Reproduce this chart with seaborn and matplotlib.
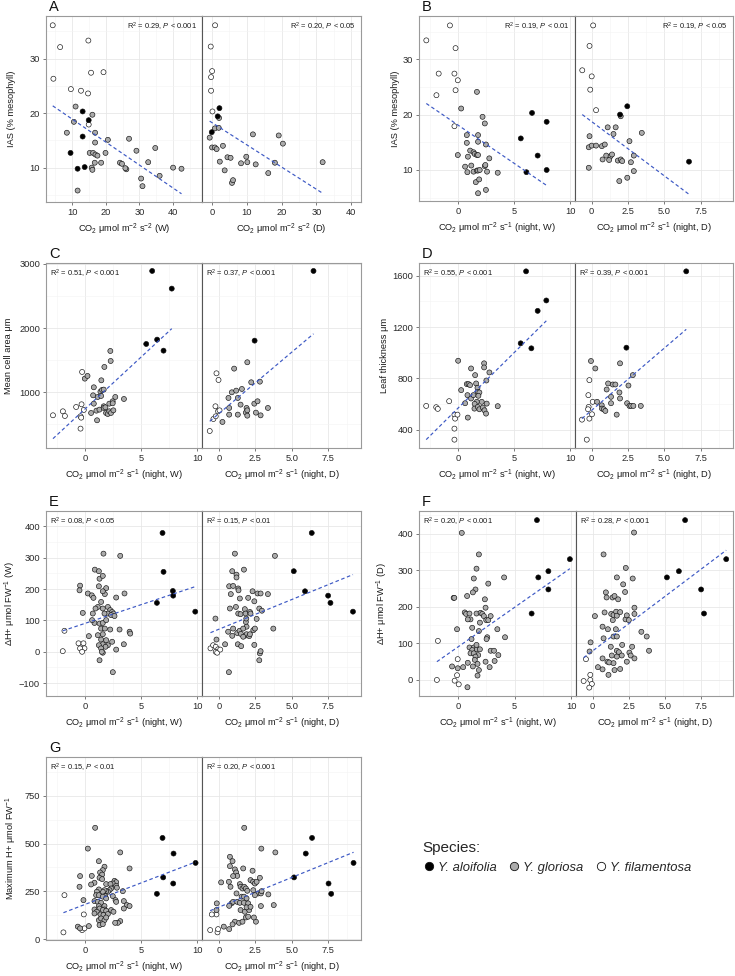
import matplotlib
matplotlib.use("Agg")
import matplotlib.pyplot as plt
import numpy as np
import pandas as pd
import seaborn as sns
from matplotlib.lines import Line2D

sns.set_theme(style="white")
plt.rcParams["font.family"] = ["Liberation Sans", "DejaVu Sans"]
plt.rcParams["mathtext.fontset"] = "custom"
plt.rcParams["mathtext.rm"] = "Liberation Sans"
plt.rcParams["mathtext.it"] = "Liberation Sans:italic"
plt.rcParams["mathtext.bf"] = "Liberation Sans:bold"

# ---------------- data (x = CO2 uptake, y = trait) ----------------
SPECIES = ["Y. aloifolia", "Y. gloriosa", "Y. filamentosa"]
COLORS = {"Y. aloifolia": "#000000", "Y. gloriosa": "#ababab", "Y. filamentosa": "#ffffff"}

# Panel A
A_W_alo = [(13.1,20.3),(14.9,18.7),(13.1,15.7),(9.5,12.7),(11.6,9.8),(13.7,10.1)]
A_W_fil = [(4.2,36.1),(6.4,32.1),(4.4,26.3),(9.6,24.4),(12.6,24.1),(14.8,33.3),(14.7,23.6),(15.6,27.4),(19.3,27.5),(14.9,17.9)]
A_W_glo = [(8.4,16.4),(11.0,21.2),(10.5,18.4),(16.0,19.7),(16.8,16.4),(16.8,14.6),(15.2,12.7),(16.2,12.7),(16.9,12.4),(17.5,12.2),(16.7,10.9),(15.8,10.0),(16.0,9.6),(18.6,10.9),(19.9,12.7),(20.6,15.1),(26.9,15.3),(24.2,10.9),(24.8,10.7),(26.1,9.7),(25.8,9.9),(29.1,13.1),(32.6,11.0),(34.7,13.6),(30.5,8.0),(30.9,6.6),(36.0,8.5),(40.0,10.0),(42.5,9.8),(11.6,5.8)]
A_D_alo = [(2.2,20.9),(1.7,19.4),(0.0,16.5)]
A_D_fil = [(0.95,36.1),(-0.3,32.2),(0.1,27.7),(-0.2,26.6),(-0.2,24.1),(0.2,20.3)]
A_D_glo = [(2.1,19.1),(0.9,17.2),(2.0,17.3),(-0.6,15.5),(0.1,13.7),(0.9,13.7),(1.4,13.4),(3.2,14.0),(4.5,11.9),(5.4,11.8),(2.3,11.1),(3.7,9.5),(5.8,7.2),(6.1,7.7),(8.4,10.8),(9.9,12.0),(10.2,11.0),(12.6,10.6),(11.8,16.1),(16.2,9.0),(19.2,15.9),(20.4,14.4),(18.1,10.9),(31.8,11.0)]

# Panel B
B_W_alo = [(5.6,15.7),(6.6,20.3),(7.1,12.6),(7.9,18.7),(7.9,10.0),(6.1,9.6)]
B_W_fil = [(-2.8,33.4),(-0.7,36.1),(-0.2,32.0),(-1.7,27.4),(-0.3,27.4),(0.0,26.2),(-1.9,23.5),(-0.2,24.4),(-0.3,17.9)]
B_W_glo = [(0.3,21.1),(1.7,24.1),(2.2,19.6),(2.4,18.4),(0.0,12.7),(0.8,16.3),(0.8,14.9),(1.8,16.3),(1.8,15.1),(2.5,14.6),(1.1,13.5),(1.4,13.2),(1.5,12.9),(1.7,12.7),(1.8,12.7),(0.9,12.4),(0.65,10.6),(0.85,9.6),(1.2,10.8),(1.4,9.7),(1.7,9.9),(1.8,9.9),(1.95,10.0),(2.4,10.7),(2.45,10.9),(2.6,9.7),(2.8,12.1),(3.55,9.5),(1.6,7.8),(1.9,8.3),(1.8,5.8),(2.5,6.4)]
B_D_alo = [(1.95,20.0),(2.45,21.5),(6.7,11.5)]
B_D_fil = [(0.1,36.1),(-0.15,32.4),(-0.65,28.0),(0.0,26.9),(-0.1,24.5),(0.3,20.8)]
B_D_glo = [(2.0,19.7),(1.1,17.7),(1.65,17.7),(1.5,16.5),(-0.15,16.1),(-0.2,10.4),(-0.2,14.1),(0.0,14.4),(0.3,14.4),(0.7,14.3),(0.9,14.6),(2.6,15.2),(3.45,16.7),(0.75,11.9),(1.0,12.6),(1.3,12.5),(1.2,11.8),(1.4,12.8),(1.8,11.7),(2.0,11.9),(2.1,11.6),(2.9,12.6),(2.7,11.4),(2.9,9.8),(1.9,8.0),(2.45,8.6)]

# Panel C
C_W_alo = [(5.99,2891),(7.73,2616),(5.46,1753),(6.43,1821),(7.0,1649)]
C_W_fil = [(-2.83,642),(-1.95,704),(-1.77,631),(-0.77,771),(-0.29,813),(-0.38,626),(-0.32,605),(-0.38,434),(-0.24,1317),(-0.09,725)]
C_W_glo = [(0,1213),(0.24,1255),(0.56,678),(0.74,953),(0.8,1078),(0.8,823),(1.03,714),(1.09,564),(1.15,927),(1.3,730),(1.39,1010),(1.45,943),(1.47,1187),(1.53,1036),(1.68,1042),(1.74,1395),(1.68,782),(1.68,756),(1.83,766),(1.89,678),(2.04,662),(2.18,823),(2.18,704),(2.33,678),(2.27,1644),(2.3,1488),(2.48,860),(2.48,829),(2.54,719),(2.71,927),(3.48,896)]
C_D_alo = [(2.45,1805),(6.48,2891)]
C_D_fil = [(-0.62,397),(-0.16,1296),(-0.02,1192),(-0.37,584),(-0.21,626),(-0.05,704),(0.05,719),(-0.23,782)]
C_D_glo = [(0.25,538),(0.66,912),(0.71,652),(0.71,756),(0.89,1000),(1.05,1369),(1.19,1026),(1.3,912),(1.3,652),(1.49,808),(1.58,1052),(1.85,683),(1.9,756),(1.95,719),(1.95,636),(1.95,1468),(2.22,1156),(2.43,823),(2.54,683),(2.65,860),(2.81,1166),(2.86,641),(3.36,756)]

# Panel D
D_W_alo = [(6.07,1634),(7.87,1407),(7.1,1326),(5.59,1073),(6.54,1034)]
D_W_fil = [(-2.81,585),(-1.92,575),(-1.78,562),(-0.77,622),(-0.3,517),(-0.24,486),(-0.3,408),(-0.3,322),(-0.03,517)]
D_W_glo = [(0.03,937),(0.3,708),(0.65,606),(0.8,755),(0.95,755),(0.89,494),(1.09,747),(1.18,877),(0.86,669),(1.18,643),(1.39,669),(1.54,825),(1.63,760),(1.75,726),(1.78,695),(1.92,690),(1.83,664),(1.69,617),(1.5,601),(1.48,564),(1.78,577),(1.92,559),(2.13,617),(2.22,572),(2.37,551),(2.51,525),(2.57,603),(2.34,917),(2.34,885),(2.54,783),(2.81,846),(3.55,583)]
D_D_alo = [(2.39,1039),(6.51,1634)]
D_D_fil = [(-0.67,478),(-0.34,322),(-0.16,486),(-0.21,577),(0.02,520),(-0.23,669),(-0.16,786),(-0.25,559),(0.07,617)]
D_D_glo = [(-0.05,935),(0.25,877),(0.37,617),(0.69,590),(0.71,564),(0.83,559),(0.94,546),(1.03,713),(1.13,760),(1.33,656),(1.33,606),(1.45,752),(1.63,752),(1.72,517),(1.95,917),(1.91,690),(1.95,643),(2.44,606),(2.53,744),(2.6,585),(2.71,585),(2.83,825),(2.87,585),(3.38,585)]

# Panel E
E_W_alo = [(6.91,379),(7.0,255),(7.83,194),(7.86,179),(6.41,156),(9.82,128)]
E_W_fil = [(-1.96,2),(-1.81,67),(-0.56,27),(-0.12,27),(-0.03,11),(-0.42,11),(-0.24,0)]
E_W_glo = [(-0.42,211),(-0.47,196),(0.27,186),(0.62,180),(0.77,172),(1.25,209),(1.9,203),(1.78,184),(1.6,193),(2.79,173),(3.53,186),(1.45,159),(1.16,143),(0.95,138),(1.6,138),(2.05,143),(2.26,133),(2.43,127),(2.55,122),(2.05,122),(2.34,117),(1.75,122),(2.64,114),(-0.18,124),(0.71,122),(0.86,92),(0.65,101),(1.31,90),(1.6,92),(1.9,101),(1.45,74),(1.78,74),(2.26,71),(3.09,71),(3.98,64),(4.04,58),(0.36,50),(1.16,53),(1.6,56),(1.45,39),(1.6,24),(1.25,21),(1.9,37),(2.05,21),(2.43,32),(2.79,7),(3.47,24),(1.84,16),(1.45,11),(1.6,-3),(1.51,0),(1.31,-27),(2.49,-65),(1.66,313),(3.15,306),(0.89,262),(1.25,257),(1.31,233),(1.6,242)]
E_D_alo = [(6.36,379),(5.13,257),(5.9,193),(7.48,179),(7.64,156),(9.18,128)]
E_D_fil = [(-0.57,11),(-0.39,21),(-0.21,16),(-0.05,8),(-0.21,0),(-0.11,-3),(0.1,7)]
E_D_glo = [(-0.16,39),(-0.23,106),(0.69,-65),(1.1,313),(0.92,257),(1.21,246),(1.21,237),(1.72,262),(0.71,209),(0.98,210),(1.33,202),(1.35,196),(0.82,184),(1.44,170),(2.01,172),(2.31,193),(2.65,186),(2.86,186),(3.36,184),(3.84,306),(2.43,161),(0.76,138),(1.17,143),(1.33,122),(1.49,120),(1.78,136),(1.83,122),(2.13,127),(2.17,122),(2.77,138),(2.95,131),(2.59,105),(1.85,95),(1.9,80),(0.98,74),(1.26,60),(1.42,67),(1.51,57),(1.67,74),(1.83,52),(1.9,56),(2.08,50),(2.13,56),(2.36,69),(2.47,74),(0.43,24),(1.3,24),(1.53,18),(2.43,22),(2.81,-5),(2.86,2),(2.77,-27),(3.73,74),(0.92,51),(0.64,64),(1.67,48),(1.88,106)]

# Panel F
F_W_alo = [(6.97,437),(9.88,330),(7.98,297),(7.09,280),(7.98,247),(6.5,181)]
F_W_fil = [(-1.78,106),(-1.87,-1),(-0.3,-3),(0.06,-13),(-0.03,56),(-0.09,12)]
F_W_glo = [(1.63,304),(1.39,277),(4.07,280),(2.67,263),(1.54,247),(1.31,239),(0.8,229),(-0.39,224),(-0.33,224),(2.37,220),(2.43,197),(0.59,184),(0.71,180),(1.01,181),(1.63,181),(1.99,183),(2.14,180),(1.1,165),(0.86,165),(2.28,174),(2.49,163),(2.67,163),(2.88,174),(1.93,156),(3.47,138),(1.25,142),(-0.09,138),(1.84,133),(4.15,116),(2.58,116),(2.52,111),(1.19,111),(1.01,88),(1.39,88),(1.63,83),(1.25,81),(1.63,95),(1.93,83),(1.1,72),(1.39,72),(1.78,67),(1.54,63),(1.48,54),(2.88,79),(3.18,79),(3.56,67),(2.43,49),(3.23,51),(2.79,34),(-0.53,36),(-0.03,31),(0.45,34),(0.86,46),(1.31,36),(1.72,43),(1.84,26),(1.72,11),(0.83,-21),(0.33,402),(1.84,343)]
F_D_alo = [(6.41,437),(9.26,330),(5.98,297),(5.15,280),(7.52,247),(7.72,181)]
F_D_fil = [(-0.62,-4),(-0.46,56),(-0.16,13),(-0.16,-1),(-0.05,-12),(-0.23,-22)]
F_D_glo = [(-0.21,77),(-0.14,102),(0.16,174),(0.37,34),(0.69,28),(0.69,58),(0.76,343),(0.83,184),(0.69,145),(0.76,113),(0.92,239),(0.97,225),(1.06,138),(1.1,13),(1.03,49),(1.15,47),(1.29,180),(1.38,225),(1.52,229),(1.4,163),(1.45,177),(1.45,118),(1.26,90),(1.33,66),(1.45,45),(1.52,26),(1.63,186),(1.68,175),(1.68,280),(1.61,138),(1.68,118),(1.77,220),(1.91,185),(1.68,79),(1.82,75),(1.68,63),(1.91,29),(2.05,95),(2.02,66),(2.12,261),(2.25,240),(2.3,306),(2.28,165),(2.37,176),(2.37,49),(2.51,163),(2.55,74),(2.64,66),(2.74,90),(2.78,277),(2.9,197),(2.9,180),(2.9,58),(2.87,403),(3.38,131),(3.75,118),(3.91,79)]

# Panel G
G_W_alo = [(6.91,530),(7.89,448),(9.85,399),(6.97,323),(7.86,291),(6.41,237)]
G_W_fil = [(-1.9,35),(-1.81,230),(-0.09,129),(-0.24,47),(-0.03,56)]
G_W_glo = [(0.92,583),(0.27,474),(3.15,454),(1.25,408),(1.75,379),(1.6,361),(1.36,349),(1.54,338),(3.98,370),(-0.42,330),(0.62,331),(1.31,321),(1.54,314),(-0.47,274),(0.86,295),(0.56,286),(1.9,288),(2.64,305),(2.79,298),(2.49,291),(2.28,288),(2.34,265),(2.2,256),(2.05,248),(1.9,251),(1.75,256),(1.6,248),(2.79,279),(2.85,269),(1.25,260),(1.07,248),(1.01,230),(1.25,230),(3.38,251),(-0.12,204),(2.49,225),(1.81,225),(1.6,222),(1.9,213),(3.47,199),(3.74,178),(2.73,204),(2.79,195),(0.86,199),(1.16,195),(1.45,190),(1.25,173),(1.75,173),(0.86,155),(1.31,160),(1.75,155),(1.07,143),(1.6,152),(1.9,148),(0.86,134),(1.39,129),(1.66,126),(2.05,131),(2.34,152),(2.55,143),(3.47,160),(3.98,173),(1.25,99),(1.45,108),(1.75,99),(1.9,113),(1.31,73),(1.6,78),(3.15,94),(2.94,85),(2.7,85),(0.36,68),(-0.62,65),(-0.42,56)]
G_D_alo = [(6.38,530),(5.95,448),(5.15,323),(7.51,291),(7.69,237),(9.22,399)]
G_D_fil = [(-0.59,47),(-0.16,129),(-0.09,35),(-0.05,52),(-0.48,129)]
G_D_glo = [(-0.14,187),(-0.16,152),(0.16,297),(0.34,65),(0.71,52),(0.76,431),(0.76,382),(0.94,408),(1.1,365),(1.19,349),(1.26,331),(1.74,583),(0.8,274),(0.69,300),(0.98,330),(0.87,187),(0.98,195),(0.71,174),(1.21,239),(1.26,195),(1.44,288),(1.49,274),(1.62,265),(1.74,274),(1.67,370),(1.85,265),(1.95,253),(1.56,222),(1.72,222),(1.9,213),(1.44,190),(1.72,190),(2.01,187),(1.49,152),(1.78,143),(2.08,152),(1.1,91),(1.39,85),(1.62,91),(0.94,77),(1.85,113),(2.01,117),(1.9,166),(2.17,169),(2.17,309),(2.35,300),(2.31,358),(2.47,291),(2.59,300),(2.54,91),(2.4,113),(2.7,239),(2.81,321),(2.88,239),(2.93,251),(2.88,173),(2.91,474),(3.87,454),(3.39,234),(3.76,178),(2.36,256),(2.47,230)]

# fitted lines (intercept, slope) and statistics
FITS = {"A": [(23.1, -0.421), (18.28, -0.408)],
        "B": [(18.13, -1.383), (18.73, -1.958)],
        "C": [(737, 162.3), (667, 192.0)],
        "D": [(566, 86.7), (551, 96.9)],
        "E": [(90.4, 11.96), (71.8, 19.0)],
        "F": [(89.6, 21.7), (78.5, 29.8)],
        "G": [(181, 22.6), (167, 31.2)]}
STATS = {"A": [("0.29", "0.001"), ("0.20", "0.05")],
         "B": [("0.19", "0.01"), ("0.19", "0.05")],
         "C": [("0.51", "0.001"), ("0.37", "0.001")],
         "D": [("0.55", "0.001"), ("0.39", "0.001")],
         "E": [("0.08", "0.05"), ("0.15", "0.01")],
         "F": [("0.20", "0.001"), ("0.28", "0.001")],
         "G": [("0.15", "0.01"), ("0.20", "0.001")]}
YLABELS = {"A": "IAS (% mesophyll)", "B": "IAS (% mesophyll)",
           "C": "Mean cell area \u03bcm", "D": "Leaf thickness \u03bcm",
           "E": "\u0394H+ \u03bcmol FW$^{-1}$ (W)", "F": "\u0394H+ \u03bcmol FW$^{-1}$ (D)",
           "G": "Maximum H+ \u03bcmol FW$^{-1}$"}
XLAB_A = ["CO$_2$ \u03bcmol m$^{-2}$ s$^{-2}$ (W)", "CO$_2$ \u03bcmol m$^{-2}$ s$^{-2}$ (D)"]
XLAB_N = ["CO$_2$ \u03bcmol m$^{-2}$ s$^{-1}$ (night, W)", "CO$_2$ \u03bcmol m$^{-2}$ s$^{-1}$ (night, D)"]

# ---------------- layout ----------------
W, H = 735, 976
fig = plt.figure(figsize=(W / 100, H / 100), dpi=100)
BLUE = "#3c58c4"
FS = 6.7


def frame(alo, glo, fil):
    rows = ([(x, y, "Y. filamentosa") for x, y in fil] +
            [(x, y, "Y. gloriosa") for x, y in glo] +
            [(x, y, "Y. aloifolia") for x, y in alo])
    return pd.DataFrame(rows, columns=["x", "y", "sp"])


def ftext(x, y, s, **kw):
    fig.text(x / W, 1 - y / H, s, **kw)


LEFT_X = dict(xt=[0, 5, 10], xtl=["0", "5", "10"], xtm=[-2.5, 2.5, 7.5], xlim=(-3.45, 10.42))
RIGHT_X = dict(xt=[0, 2.5, 5, 7.5], xtl=["0", "2.5", "5.0", "7.5"], xtm=[1.25, 3.75, 6.25, 8.75], xlim=(-1.15, 9.73))

PANELS = [
    dict(key="A", box=(46, 202, 361, 16, 202), ylx=12, ylim=(3.7, 37.8), yt=[10, 20, 30], ytm=[5, 15, 25, 35],
         data=[(A_W_alo, A_W_glo, A_W_fil), (A_D_alo, A_D_glo, A_D_fil)],
         xs=[dict(xt=[10, 20, 30, 40], xtl=["10", "20", "30", "40"], xtm=[5, 15, 25, 35, 45], xlim=(2.2, 48.6)),
             dict(xt=[0, 10, 20, 30, 40], xtl=["0", "10", "20", "30", "40"], xtm=[5, 15, 25, 35], xlim=(-2.8, 42.8))],
         xlab=XLAB_A, right=True),
    dict(key="B", box=(419, 575, 733, 16, 201), ylx=396, ylim=(4.4, 37.8), yt=[10, 20, 30], ytm=[5, 15, 25, 35],
         data=[(B_W_alo, B_W_glo, B_W_fil), (B_D_alo, B_D_glo, B_D_fil)],
         xs=[LEFT_X, RIGHT_X], xlab=XLAB_N, right=True),
    dict(key="C", box=(46, 202, 361, 263, 448), ylx=9, ylim=(132, 3015), yt=[1000, 2000, 3000], ytm=[500, 1500, 2500],
         data=[(C_W_alo, C_W_glo, C_W_fil), (C_D_alo, C_D_glo, C_D_fil)],
         xs=[LEFT_X, RIGHT_X], xlab=XLAB_N, right=False),
    dict(key="D", box=(419, 575, 733, 263, 448), ylx=384, ylim=(257, 1699), yt=[400, 800, 1200, 1600], ytm=[600, 1000, 1400],
         data=[(D_W_alo, D_W_glo, D_W_fil), (D_D_alo, D_D_glo, D_D_fil)],
         xs=[LEFT_X, RIGHT_X], xlab=XLAB_N, right=False),
    dict(key="E", box=(46, 202, 361, 511, 696), ylx=10, ylim=(-141, 449), yt=[-100, 0, 100, 200, 300, 400], ytm=[-50, 50, 150, 250, 350],
         data=[(E_W_alo, E_W_glo, E_W_fil), (E_D_alo, E_D_glo, E_D_fil)],
         xs=[LEFT_X, RIGHT_X], xlab=XLAB_N, right=False),
    dict(key="F", box=(419, 576, 733, 511, 696), ylx=382, ylim=(-45, 462), yt=[0, 100, 200, 300, 400], ytm=[50, 150, 250, 350, 450],
         data=[(F_W_alo, F_W_glo, F_W_fil), (F_D_alo, F_D_glo, F_D_fil)],
         xs=[LEFT_X, RIGHT_X], xlab=XLAB_N, right=False),
    dict(key="G", box=(46, 202, 361, 757, 940), ylx=11, ylim=(-5, 954), yt=[0, 250, 500, 750], ytm=[125, 375, 625, 875],
         data=[(G_W_alo, G_W_glo, G_W_fil), (G_D_alo, G_D_glo, G_D_fil)],
         xs=[LEFT_X, RIGHT_X], xlab=XLAB_N, right=False),
]

for P in PANELS:
    l, d, r, t, b = P["box"]
    for i in range(2):
        x0, x1 = (l, d) if i == 0 else (d, r)
        ax = fig.add_axes([x0 / W, 1 - b / H, (x1 - x0) / W, (b - t) / H])
        ax.set_axisbelow(True)
        df = frame(*P["data"][i])
        sns.scatterplot(data=df, x="x", y="y", hue="sp", palette=COLORS, hue_order=SPECIES,
                        edgecolor="#111111", linewidth=0.45, s=13, legend=False, ax=ax, zorder=3)
        a, s = FITS[P["key"]][i]
        xs = np.array([df["x"].min(), df["x"].max()])
        ax.plot(xs, a + s * xs, color=BLUE, lw=0.85, ls=(0, (3, 2.2)), zorder=4)
        xs_ = P["xs"][i]
        ax.set_xlim(*xs_["xlim"])
        ax.set_ylim(*P["ylim"])
        ax.set_xticks(xs_["xt"])
        ax.set_xticklabels(xs_["xtl"])
        ax.set_xticks(xs_["xtm"], minor=True)
        ax.set_yticks(P["yt"])
        ax.set_yticks(P["ytm"], minor=True)
        ax.grid(which="major", color="#e6e6e6", lw=0.55)
        ax.grid(which="minor", color="#f3f3f3", lw=0.4)
        ax.tick_params(which="minor", length=0)
        ax.tick_params(which="major", length=2.3, width=0.5, color="#444444", labelsize=FS,
                       labelcolor="#2a2a2a", pad=2, direction="out", bottom=True, left=(i == 0))
        if i == 1:
            ax.set_yticklabels([])
        ax.set_xlabel("")
        ax.set_ylabel("")
        for sp in ax.spines.values():
            sp.set_color("#9a9a9a")
            sp.set_linewidth(0.8)
        if i == 0:
            ax.spines["right"].set_color("#555555")
        else:
            ax.spines["left"].set_color("#555555")
        # x label
        ftext((x0 + x1) / 2, b + 27, P["xlab"][i], ha="center", va="center", fontsize=FS, color="#1a1a1a")
        # stats
        r2, pv = STATS[P["key"]][i]
        stxt = "R$^2$ = " + r2 + ", $P$ < " + pv
        if P["right"]:
            ftext(x1 - 5, t + 11, stxt, ha="right", va="center", fontsize=5.4, color="#1a1a1a")
        else:
            ftext(x0 + 4, t + 11, stxt, ha="left", va="center", fontsize=5.4, color="#1a1a1a")
    ftext((P["ylx"]), (t + b) / 2, YLABELS[P["key"]], rotation=90, ha="center", va="center",
          fontsize=FS, color="#1a1a1a")
    ftext(l + 3, t - 9, P["key"], ha="left", va="center", fontsize=10.5, color="#111111")

# legend
handles = [Line2D([], [], ls="", marker="o", markersize=6.0, markerfacecolor=COLORS[sp],
                  markeredgecolor="#111111", markeredgewidth=0.6) for sp in SPECIES]
leg = fig.legend(handles, SPECIES, loc="upper left", bbox_to_anchor=(417 / W, 1 - 836 / H),
                 ncol=3, frameon=False, title="Species:", alignment="left",
                 prop={"style": "italic", "size": 9.4}, title_fontproperties={"size": 11},
                 handletextpad=0.2, columnspacing=0.85, handlelength=1.0, borderaxespad=0,
                 labelspacing=0.5)

fig.savefig("out.png", dpi=100, facecolor="white")
